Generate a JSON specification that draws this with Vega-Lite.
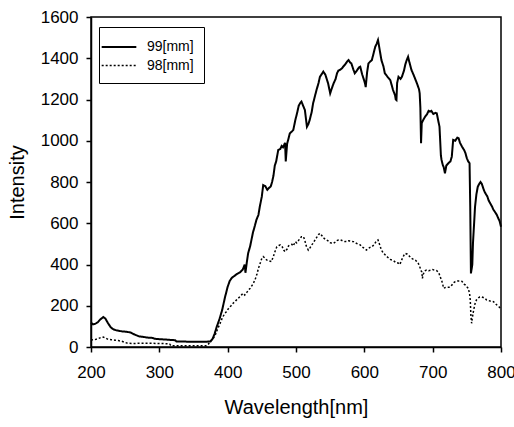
{
  "$schema": "https://vega.github.io/schema/vega-lite/v6.json",
  "autosize": {"type": "none"},
  "width": 410,
  "height": 330,
  "padding": {"left": 91, "top": 17, "right": 13, "bottom": 80},
  "background": "white",
  "config": {
    "font": "Liberation Sans",
    "view": {"stroke": "black", "strokeWidth": 1.5},
    "axis": {
      "grid": false,
      "labelFlush": false,
      "domainColor": "black",
      "domainWidth": 1.5,
      "tickColor": "black",
      "tickWidth": 1.5,
      "tickSize": 5,
      "labelColor": "black",
      "labelFont": "Liberation Sans",
      "labelFontSize": 17,
      "titleFont": "Liberation Sans",
      "titleFontSize": 20,
      "titleFontWeight": "normal",
      "titleColor": "black"
    },
    "legend": {
      "orient": "none",
      "legendX": 8,
      "legendY": 10,
      "strokeColor": "black",
      "padding": 10,
      "labelFont": "Liberation Sans",
      "labelFontSize": 14,
      "labelColor": "black",
      "labelOffset": 18,
      "symbolType": "M-2,0H2",
      "symbolSize": 300,
      "symbolStrokeColor": "black",
      "rowPadding": 2
    }
  },
  "data": {
    "values": [
      {"w":200,"v":118,"s":"99[mm]"},{"w":203,"v":110,"s":"99[mm]"},{"w":206,"v":112,"s":"99[mm]"},{"w":210,"v":120,"s":"99[mm]"},{"w":214,"v":135,"s":"99[mm]"},{"w":218,"v":145,"s":"99[mm]"},{"w":221,"v":138,"s":"99[mm]"},{"w":225,"v":115,"s":"99[mm]"},{"w":229,"v":95,"s":"99[mm]"},{"w":233,"v":85,"s":"99[mm]"},{"w":238,"v":80,"s":"99[mm]"},{"w":245,"v":76,"s":"99[mm]"},{"w":252,"v":74,"s":"99[mm]"},{"w":258,"v":70,"s":"99[mm]"},{"w":264,"v":60,"s":"99[mm]"},{"w":270,"v":52,"s":"99[mm]"},{"w":278,"v":48,"s":"99[mm]"},{"w":285,"v":45,"s":"99[mm]"},{"w":290,"v":44,"s":"99[mm]"},{"w":293,"v":40,"s":"99[mm]"},{"w":300,"v":38,"s":"99[mm]"},{"w":310,"v":36,"s":"99[mm]"},{"w":318,"v":34,"s":"99[mm]"},{"w":323,"v":33,"s":"99[mm]"},{"w":325,"v":27,"s":"99[mm]"},{"w":340,"v":26,"s":"99[mm]"},{"w":355,"v":26,"s":"99[mm]"},{"w":370,"v":26,"s":"99[mm]"},{"w":375,"v":27,"s":"99[mm]"},{"w":378,"v":40,"s":"99[mm]"},{"w":381,"v":65,"s":"99[mm]"},{"w":384,"v":98,"s":"99[mm]"},{"w":388,"v":135,"s":"99[mm]"},{"w":392,"v":180,"s":"99[mm]"},{"w":396,"v":240,"s":"99[mm]"},{"w":400,"v":292,"s":"99[mm]"},{"w":403,"v":320,"s":"99[mm]"},{"w":406,"v":335,"s":"99[mm]"},{"w":410,"v":345,"s":"99[mm]"},{"w":414,"v":355,"s":"99[mm]"},{"w":418,"v":362,"s":"99[mm]"},{"w":422,"v":375,"s":"99[mm]"},{"w":425,"v":400,"s":"99[mm]"},{"w":426,"v":360,"s":"99[mm]"},{"w":428,"v":410,"s":"99[mm]"},{"w":430,"v":455,"s":"99[mm]"},{"w":433,"v":490,"s":"99[mm]"},{"w":437,"v":555,"s":"99[mm]"},{"w":440,"v":590,"s":"99[mm]"},{"w":442,"v":616,"s":"99[mm]"},{"w":445,"v":640,"s":"99[mm]"},{"w":447,"v":680,"s":"99[mm]"},{"w":450,"v":730,"s":"99[mm]"},{"w":452,"v":785,"s":"99[mm]"},{"w":455,"v":780,"s":"99[mm]"},{"w":458,"v":762,"s":"99[mm]"},{"w":460,"v":770,"s":"99[mm]"},{"w":463,"v":778,"s":"99[mm]"},{"w":465,"v":800,"s":"99[mm]"},{"w":467,"v":830,"s":"99[mm]"},{"w":469,"v":880,"s":"99[mm]"},{"w":471,"v":900,"s":"99[mm]"},{"w":474,"v":955,"s":"99[mm]"},{"w":477,"v":960,"s":"99[mm]"},{"w":479,"v":975,"s":"99[mm]"},{"w":481,"v":968,"s":"99[mm]"},{"w":484,"v":990,"s":"99[mm]"},{"w":485,"v":900,"s":"99[mm]"},{"w":487,"v":985,"s":"99[mm]"},{"w":491,"v":1036,"s":"99[mm]"},{"w":494,"v":1045,"s":"99[mm]"},{"w":496,"v":1052,"s":"99[mm]"},{"w":499,"v":1100,"s":"99[mm]"},{"w":502,"v":1140,"s":"99[mm]"},{"w":504,"v":1170,"s":"99[mm]"},{"w":506,"v":1182,"s":"99[mm]"},{"w":508,"v":1190,"s":"99[mm]"},{"w":511,"v":1165,"s":"99[mm]"},{"w":513,"v":1149,"s":"99[mm]"},{"w":516,"v":1068,"s":"99[mm]"},{"w":518,"v":1080,"s":"99[mm]"},{"w":520,"v":1100,"s":"99[mm]"},{"w":523,"v":1140,"s":"99[mm]"},{"w":525,"v":1181,"s":"99[mm]"},{"w":528,"v":1220,"s":"99[mm]"},{"w":530,"v":1246,"s":"99[mm]"},{"w":533,"v":1280,"s":"99[mm]"},{"w":535,"v":1310,"s":"99[mm]"},{"w":538,"v":1325,"s":"99[mm]"},{"w":540,"v":1335,"s":"99[mm]"},{"w":543,"v":1320,"s":"99[mm]"},{"w":547,"v":1278,"s":"99[mm]"},{"w":550,"v":1230,"s":"99[mm]"},{"w":552,"v":1250,"s":"99[mm]"},{"w":555,"v":1278,"s":"99[mm]"},{"w":558,"v":1300,"s":"99[mm]"},{"w":560,"v":1327,"s":"99[mm]"},{"w":562,"v":1340,"s":"99[mm]"},{"w":564,"v":1343,"s":"99[mm]"},{"w":567,"v":1350,"s":"99[mm]"},{"w":569,"v":1359,"s":"99[mm]"},{"w":572,"v":1370,"s":"99[mm]"},{"w":575,"v":1385,"s":"99[mm]"},{"w":577,"v":1391,"s":"99[mm]"},{"w":579,"v":1380,"s":"99[mm]"},{"w":581,"v":1375,"s":"99[mm]"},{"w":584,"v":1345,"s":"99[mm]"},{"w":586,"v":1327,"s":"99[mm]"},{"w":589,"v":1340,"s":"99[mm]"},{"w":592,"v":1355,"s":"99[mm]"},{"w":594,"v":1359,"s":"99[mm]"},{"w":597,"v":1320,"s":"99[mm]"},{"w":599,"v":1300,"s":"99[mm]"},{"w":601,"v":1278,"s":"99[mm]"},{"w":602,"v":1260,"s":"99[mm]"},{"w":604,"v":1330,"s":"99[mm]"},{"w":606,"v":1375,"s":"99[mm]"},{"w":609,"v":1385,"s":"99[mm]"},{"w":611,"v":1391,"s":"99[mm]"},{"w":614,"v":1430,"s":"99[mm]"},{"w":616,"v":1456,"s":"99[mm]"},{"w":618,"v":1470,"s":"99[mm]"},{"w":620,"v":1488,"s":"99[mm]"},{"w":622,"v":1450,"s":"99[mm]"},{"w":625,"v":1391,"s":"99[mm]"},{"w":628,"v":1360,"s":"99[mm]"},{"w":630,"v":1327,"s":"99[mm]"},{"w":634,"v":1310,"s":"99[mm]"},{"w":638,"v":1294,"s":"99[mm]"},{"w":640,"v":1270,"s":"99[mm]"},{"w":642,"v":1246,"s":"99[mm]"},{"w":645,"v":1220,"s":"99[mm]"},{"w":646,"v":1200,"s":"99[mm]"},{"w":647,"v":1197,"s":"99[mm]"},{"w":648,"v":1280,"s":"99[mm]"},{"w":650,"v":1310,"s":"99[mm]"},{"w":653,"v":1300,"s":"99[mm]"},{"w":655,"v":1310,"s":"99[mm]"},{"w":658,"v":1340,"s":"99[mm]"},{"w":660,"v":1370,"s":"99[mm]"},{"w":662,"v":1391,"s":"99[mm]"},{"w":664,"v":1407,"s":"99[mm]"},{"w":666,"v":1380,"s":"99[mm]"},{"w":669,"v":1343,"s":"99[mm]"},{"w":672,"v":1320,"s":"99[mm]"},{"w":675,"v":1295,"s":"99[mm]"},{"w":677,"v":1278,"s":"99[mm]"},{"w":680,"v":1250,"s":"99[mm]"},{"w":681,"v":1230,"s":"99[mm]"},{"w":682,"v":1160,"s":"99[mm]"},{"w":683,"v":988,"s":"99[mm]"},{"w":684,"v":1085,"s":"99[mm]"},{"w":686,"v":1100,"s":"99[mm]"},{"w":689,"v":1117,"s":"99[mm]"},{"w":692,"v":1130,"s":"99[mm]"},{"w":694,"v":1145,"s":"99[mm]"},{"w":696,"v":1141,"s":"99[mm]"},{"w":698,"v":1145,"s":"99[mm]"},{"w":701,"v":1130,"s":"99[mm]"},{"w":704,"v":1135,"s":"99[mm]"},{"w":706,"v":1133,"s":"99[mm]"},{"w":708,"v":1100,"s":"99[mm]"},{"w":710,"v":1068,"s":"99[mm]"},{"w":711,"v":1000,"s":"99[mm]"},{"w":712,"v":930,"s":"99[mm]"},{"w":713,"v":907,"s":"99[mm]"},{"w":715,"v":880,"s":"99[mm]"},{"w":716,"v":874,"s":"99[mm]"},{"w":718,"v":842,"s":"99[mm]"},{"w":720,"v":880,"s":"99[mm]"},{"w":723,"v":891,"s":"99[mm]"},{"w":726,"v":900,"s":"99[mm]"},{"w":728,"v":923,"s":"99[mm]"},{"w":730,"v":1004,"s":"99[mm]"},{"w":733,"v":1000,"s":"99[mm]"},{"w":736,"v":1015,"s":"99[mm]"},{"w":738,"v":1012,"s":"99[mm]"},{"w":740,"v":990,"s":"99[mm]"},{"w":743,"v":971,"s":"99[mm]"},{"w":746,"v":955,"s":"99[mm]"},{"w":748,"v":940,"s":"99[mm]"},{"w":750,"v":915,"s":"99[mm]"},{"w":752,"v":900,"s":"99[mm]"},{"w":754,"v":891,"s":"99[mm]"},{"w":755,"v":674,"s":"99[mm]"},{"w":756,"v":357,"s":"99[mm]"},{"w":758,"v":400,"s":"99[mm]"},{"w":759,"v":504,"s":"99[mm]"},{"w":761,"v":620,"s":"99[mm]"},{"w":762,"v":680,"s":"99[mm]"},{"w":764,"v":740,"s":"99[mm]"},{"w":766,"v":777,"s":"99[mm]"},{"w":768,"v":790,"s":"99[mm]"},{"w":770,"v":800,"s":"99[mm]"},{"w":772,"v":790,"s":"99[mm]"},{"w":775,"v":760,"s":"99[mm]"},{"w":777,"v":746,"s":"99[mm]"},{"w":780,"v":730,"s":"99[mm]"},{"w":782,"v":710,"s":"99[mm]"},{"w":784,"v":698,"s":"99[mm]"},{"w":787,"v":680,"s":"99[mm]"},{"w":789,"v":665,"s":"99[mm]"},{"w":791,"v":656,"s":"99[mm]"},{"w":794,"v":640,"s":"99[mm]"},{"w":796,"v":624,"s":"99[mm]"},{"w":798,"v":610,"s":"99[mm]"},{"w":800,"v":583,"s":"99[mm]"},
      {"w":200,"v":34,"s":"98[mm]"},{"w":205,"v":35,"s":"98[mm]"},{"w":210,"v":40,"s":"98[mm]"},{"w":215,"v":47,"s":"98[mm]"},{"w":218,"v":48,"s":"98[mm]"},{"w":222,"v":42,"s":"98[mm]"},{"w":225,"v":37,"s":"98[mm]"},{"w":230,"v":35,"s":"98[mm]"},{"w":235,"v":33,"s":"98[mm]"},{"w":240,"v":31,"s":"98[mm]"},{"w":245,"v":28,"s":"98[mm]"},{"w":250,"v":22,"s":"98[mm]"},{"w":254,"v":18,"s":"98[mm]"},{"w":260,"v":17,"s":"98[mm]"},{"w":270,"v":18,"s":"98[mm]"},{"w":280,"v":18,"s":"98[mm]"},{"w":290,"v":18,"s":"98[mm]"},{"w":300,"v":17,"s":"98[mm]"},{"w":310,"v":16,"s":"98[mm]"},{"w":315,"v":15,"s":"98[mm]"},{"w":317,"v":6,"s":"98[mm]"},{"w":330,"v":6,"s":"98[mm]"},{"w":345,"v":6,"s":"98[mm]"},{"w":360,"v":6,"s":"98[mm]"},{"w":369,"v":6,"s":"98[mm]"},{"w":372,"v":15,"s":"98[mm]"},{"w":374,"v":26,"s":"98[mm]"},{"w":377,"v":35,"s":"98[mm]"},{"w":379,"v":42,"s":"98[mm]"},{"w":382,"v":60,"s":"98[mm]"},{"w":385,"v":85,"s":"98[mm]"},{"w":389,"v":115,"s":"98[mm]"},{"w":392,"v":140,"s":"98[mm]"},{"w":395,"v":158,"s":"98[mm]"},{"w":398,"v":171,"s":"98[mm]"},{"w":402,"v":190,"s":"98[mm]"},{"w":405,"v":200,"s":"98[mm]"},{"w":408,"v":212,"s":"98[mm]"},{"w":412,"v":225,"s":"98[mm]"},{"w":415,"v":235,"s":"98[mm]"},{"w":418,"v":244,"s":"98[mm]"},{"w":421,"v":255,"s":"98[mm]"},{"w":423,"v":260,"s":"98[mm]"},{"w":425,"v":252,"s":"98[mm]"},{"w":428,"v":265,"s":"98[mm]"},{"w":431,"v":278,"s":"98[mm]"},{"w":433,"v":285,"s":"98[mm]"},{"w":436,"v":300,"s":"98[mm]"},{"w":438,"v":312,"s":"98[mm]"},{"w":440,"v":325,"s":"98[mm]"},{"w":443,"v":355,"s":"98[mm]"},{"w":445,"v":381,"s":"98[mm]"},{"w":448,"v":410,"s":"98[mm]"},{"w":450,"v":430,"s":"98[mm]"},{"w":452,"v":438,"s":"98[mm]"},{"w":455,"v":430,"s":"98[mm]"},{"w":457,"v":422,"s":"98[mm]"},{"w":460,"v":418,"s":"98[mm]"},{"w":464,"v":414,"s":"98[mm]"},{"w":467,"v":440,"s":"98[mm]"},{"w":470,"v":470,"s":"98[mm]"},{"w":472,"v":486,"s":"98[mm]"},{"w":475,"v":492,"s":"98[mm]"},{"w":477,"v":495,"s":"98[mm]"},{"w":480,"v":485,"s":"98[mm]"},{"w":482,"v":470,"s":"98[mm]"},{"w":484,"v":462,"s":"98[mm]"},{"w":487,"v":475,"s":"98[mm]"},{"w":489,"v":490,"s":"98[mm]"},{"w":491,"v":495,"s":"98[mm]"},{"w":494,"v":498,"s":"98[mm]"},{"w":496,"v":490,"s":"98[mm]"},{"w":499,"v":511,"s":"98[mm]"},{"w":501,"v":505,"s":"98[mm]"},{"w":504,"v":518,"s":"98[mm]"},{"w":506,"v":527,"s":"98[mm]"},{"w":508,"v":535,"s":"98[mm]"},{"w":511,"v":535,"s":"98[mm]"},{"w":513,"v":515,"s":"98[mm]"},{"w":515,"v":490,"s":"98[mm]"},{"w":518,"v":470,"s":"98[mm]"},{"w":520,"v":478,"s":"98[mm]"},{"w":523,"v":495,"s":"98[mm]"},{"w":525,"v":503,"s":"98[mm]"},{"w":528,"v":520,"s":"98[mm]"},{"w":530,"v":530,"s":"98[mm]"},{"w":533,"v":545,"s":"98[mm]"},{"w":535,"v":551,"s":"98[mm]"},{"w":538,"v":540,"s":"98[mm]"},{"w":540,"v":530,"s":"98[mm]"},{"w":543,"v":522,"s":"98[mm]"},{"w":545,"v":519,"s":"98[mm]"},{"w":548,"v":512,"s":"98[mm]"},{"w":550,"v":506,"s":"98[mm]"},{"w":553,"v":502,"s":"98[mm]"},{"w":555,"v":503,"s":"98[mm]"},{"w":558,"v":510,"s":"98[mm]"},{"w":560,"v":516,"s":"98[mm]"},{"w":562,"v":519,"s":"98[mm]"},{"w":565,"v":520,"s":"98[mm]"},{"w":568,"v":515,"s":"98[mm]"},{"w":571,"v":512,"s":"98[mm]"},{"w":574,"v":511,"s":"98[mm]"},{"w":577,"v":515,"s":"98[mm]"},{"w":580,"v":513,"s":"98[mm]"},{"w":584,"v":511,"s":"98[mm]"},{"w":587,"v":505,"s":"98[mm]"},{"w":590,"v":500,"s":"98[mm]"},{"w":594,"v":495,"s":"98[mm]"},{"w":597,"v":485,"s":"98[mm]"},{"w":600,"v":478,"s":"98[mm]"},{"w":603,"v":470,"s":"98[mm]"},{"w":606,"v":478,"s":"98[mm]"},{"w":609,"v":484,"s":"98[mm]"},{"w":611,"v":486,"s":"98[mm]"},{"w":614,"v":495,"s":"98[mm]"},{"w":617,"v":510,"s":"98[mm]"},{"w":620,"v":519,"s":"98[mm]"},{"w":622,"v":500,"s":"98[mm]"},{"w":625,"v":470,"s":"98[mm]"},{"w":628,"v":455,"s":"98[mm]"},{"w":631,"v":445,"s":"98[mm]"},{"w":633,"v":438,"s":"98[mm]"},{"w":636,"v":430,"s":"98[mm]"},{"w":638,"v":425,"s":"98[mm]"},{"w":640,"v":422,"s":"98[mm]"},{"w":643,"v":418,"s":"98[mm]"},{"w":646,"v":410,"s":"98[mm]"},{"w":650,"v":406,"s":"98[mm]"},{"w":652,"v":400,"s":"98[mm]"},{"w":655,"v":425,"s":"98[mm]"},{"w":658,"v":445,"s":"98[mm]"},{"w":660,"v":454,"s":"98[mm]"},{"w":663,"v":450,"s":"98[mm]"},{"w":666,"v":440,"s":"98[mm]"},{"w":669,"v":430,"s":"98[mm]"},{"w":672,"v":425,"s":"98[mm]"},{"w":675,"v":420,"s":"98[mm]"},{"w":677,"v":414,"s":"98[mm]"},{"w":679,"v":405,"s":"98[mm]"},{"w":681,"v":390,"s":"98[mm]"},{"w":683,"v":370,"s":"98[mm]"},{"w":684,"v":365,"s":"98[mm]"},{"w":685,"v":333,"s":"98[mm]"},{"w":686,"v":350,"s":"98[mm]"},{"w":688,"v":368,"s":"98[mm]"},{"w":691,"v":373,"s":"98[mm]"},{"w":694,"v":370,"s":"98[mm]"},{"w":697,"v":372,"s":"98[mm]"},{"w":700,"v":375,"s":"98[mm]"},{"w":703,"v":372,"s":"98[mm]"},{"w":706,"v":370,"s":"98[mm]"},{"w":709,"v":360,"s":"98[mm]"},{"w":711,"v":340,"s":"98[mm]"},{"w":713,"v":325,"s":"98[mm]"},{"w":715,"v":300,"s":"98[mm]"},{"w":716,"v":285,"s":"98[mm]"},{"w":718,"v":288,"s":"98[mm]"},{"w":721,"v":290,"s":"98[mm]"},{"w":725,"v":290,"s":"98[mm]"},{"w":728,"v":300,"s":"98[mm]"},{"w":731,"v":312,"s":"98[mm]"},{"w":733,"v":317,"s":"98[mm]"},{"w":736,"v":320,"s":"98[mm]"},{"w":740,"v":320,"s":"98[mm]"},{"w":743,"v":318,"s":"98[mm]"},{"w":746,"v":305,"s":"98[mm]"},{"w":748,"v":300,"s":"98[mm]"},{"w":750,"v":292,"s":"98[mm]"},{"w":752,"v":285,"s":"98[mm]"},{"w":754,"v":260,"s":"98[mm]"},{"w":755,"v":228,"s":"98[mm]"},{"w":756,"v":150,"s":"98[mm]"},{"w":757,"v":115,"s":"98[mm]"},{"w":758,"v":140,"s":"98[mm]"},{"w":760,"v":180,"s":"98[mm]"},{"w":762,"v":210,"s":"98[mm]"},{"w":764,"v":228,"s":"98[mm]"},{"w":767,"v":238,"s":"98[mm]"},{"w":769,"v":243,"s":"98[mm]"},{"w":771,"v":244,"s":"98[mm]"},{"w":774,"v":240,"s":"98[mm]"},{"w":777,"v":235,"s":"98[mm]"},{"w":779,"v":228,"s":"98[mm]"},{"w":782,"v":225,"s":"98[mm]"},{"w":785,"v":222,"s":"98[mm]"},{"w":789,"v":220,"s":"98[mm]"},{"w":792,"v":210,"s":"98[mm]"},{"w":795,"v":200,"s":"98[mm]"},{"w":797,"v":195,"s":"98[mm]"},{"w":799,"v":188,"s":"98[mm]"}
    ]
  },
  "mark": {"type": "line", "color": "black", "interpolate": "linear"},
  "encoding": {
    "x": {
      "field": "w",
      "type": "quantitative",
      "title": "Wavelength[nm]",
      "scale": {"domain": [200, 800], "nice": false},
      "axis": {"values": [200, 300, 400, 500, 600, 700, 800], "format": "d", "labelPadding": 12, "titlePadding": 17}
    },
    "y": {
      "field": "v",
      "type": "quantitative",
      "title": "Intensity",
      "scale": {"domain": [0, 1600], "nice": false},
      "axis": {"values": [0, 200, 400, 600, 800, 1000, 1200, 1400, 1600], "format": "d", "labelPadding": 8, "titlePadding": 13}
    },
    "strokeDash": {
      "field": "s",
      "type": "nominal",
      "title": null,
      "scale": {"domain": ["99[mm]", "98[mm]"], "range": [[1, 0], [2, 2]]}
    },
    "strokeWidth": {
      "field": "s",
      "type": "nominal",
      "title": null,
      "scale": {"domain": ["99[mm]", "98[mm]"], "range": [2, 1.5]}
    }
  }
}
